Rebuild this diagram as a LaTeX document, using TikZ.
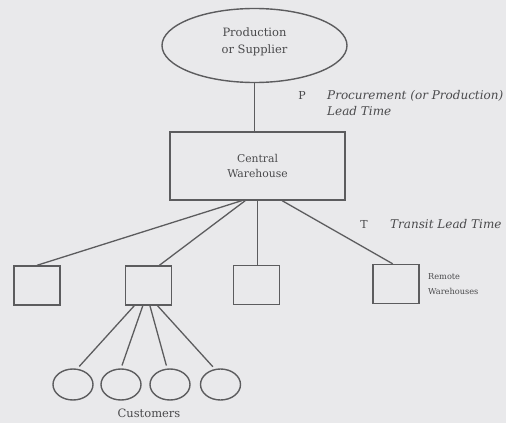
\documentclass[tikz,border=0pt]{standalone}
\usepackage{fontspec}
\setmainfont{DejaVu Serif}
\usetikzlibrary{shapes.geometric,calc}
\definecolor{bgc}{HTML}{E9E9EB}
\definecolor{linec}{HTML}{5C5C5E}
\definecolor{textc}{HTML}{4A4A4C}
\begin{document}
\begin{tikzpicture}[x=1pt,y=-1pt,
  ln/.style={draw=linec,line width=1.4pt},
  cbox/.style={ln,rectangle,inner sep=0pt,text=textc,align=center},
  rbox/.style={ln,rectangle,inner sep=0pt,minimum width=46pt,minimum height=39pt},
  cust/.style={ln,ellipse,inner sep=0pt,minimum width=40pt,minimum height=31pt},
  lbl/.style={text=textc,inner sep=0pt},
  conn/.style={draw=linec,line width=1.3pt}]
\useasboundingbox (0,0) rectangle (506,423);
\clip (0,0) rectangle (506,423);
\fill[bgc] (0,0) rectangle (506,423);

% top supplier
\node[ln,ellipse,inner sep=0pt,minimum width=185pt,minimum height=74pt] (sup) at (254.5,45.5) {};
\node[lbl,align=center,font=\fontsize{11.5}{17}\selectfont] (supt) at (254.5,42) {Production\\or Supplier};

% central warehouse
\node[cbox,minimum width=175pt,minimum height=68pt,
      font=\fontsize{10.8}{15}\selectfont] (cw) at (257.5,166) {Central\\Warehouse};

% remote warehouses
\node[rbox] (b1) at (37,285.5) {};
\node[rbox] (b2) at (148.5,285.5) {};
\node[rbox] (b3) at (256.5,285) {};
\node[rbox] (b4) at (396,284) {};

% customers
\node[cust] (c1) at (73,384.5) {};
\node[cust] (c2) at (121,384.5) {};
\node[cust] (c3) at (170,384.5) {};
\node[cust] (c4) at (220.5,384.5) {};

% labels
\node[lbl,font=\fontsize{11}{15}\selectfont] (pl) at (302,95) {P};
\node[lbl,anchor=west,align=left,font=\fontsize{12}{16}\selectfont\itshape] (pt) at (327,103)
  {Procurement (or Production)\\Lead Time};
\node[lbl,font=\fontsize{11}{15}\selectfont] (tl) at (364,224) {T};
\node[lbl,anchor=west,font=\fontsize{12}{15}\selectfont\itshape] (tt) at (390,224) {Transit Lead Time};
\node[lbl,anchor=west,align=left,font=\fontsize{8.2}{15}\selectfont] (rw) at (428,284.5) {Remote\\Warehouses};
\node[lbl,font=\fontsize{11.5}{15}\selectfont] (cu) at (149,413) {Customers};

% connectors
\draw[conn] (sup.south) -- (sup.south |- cw.north);
\draw[conn] ($(cw.south west)!0.41!(cw.south east)$) -- (b1.north);
\draw[conn] ($(cw.south west)!0.43!(cw.south east)$) -- ($(b2.north west)!0.73!(b2.north east)$);
\draw[conn] (cw.south) -- (cw.south |- b3.north);
\draw[conn] ($(cw.south west)!0.64!(cw.south east)$) -- ($(b4.north west)!0.43!(b4.north east)$);

\draw[conn,shorten >=3pt] ($(b2.south west)!0.2!(b2.south east)$) -- (c1.75);
\draw[conn,shorten >=3pt] ($(b2.south west)!0.38!(b2.south east)$) -- (c2.north);
\draw[conn,shorten >=3pt] ($(b2.south west)!0.53!(b2.south east)$) -- (c3.100);
\draw[conn,shorten >=3pt] ($(b2.south west)!0.69!(b2.south east)$) -- (c4.110);
\end{tikzpicture}
\end{document}
